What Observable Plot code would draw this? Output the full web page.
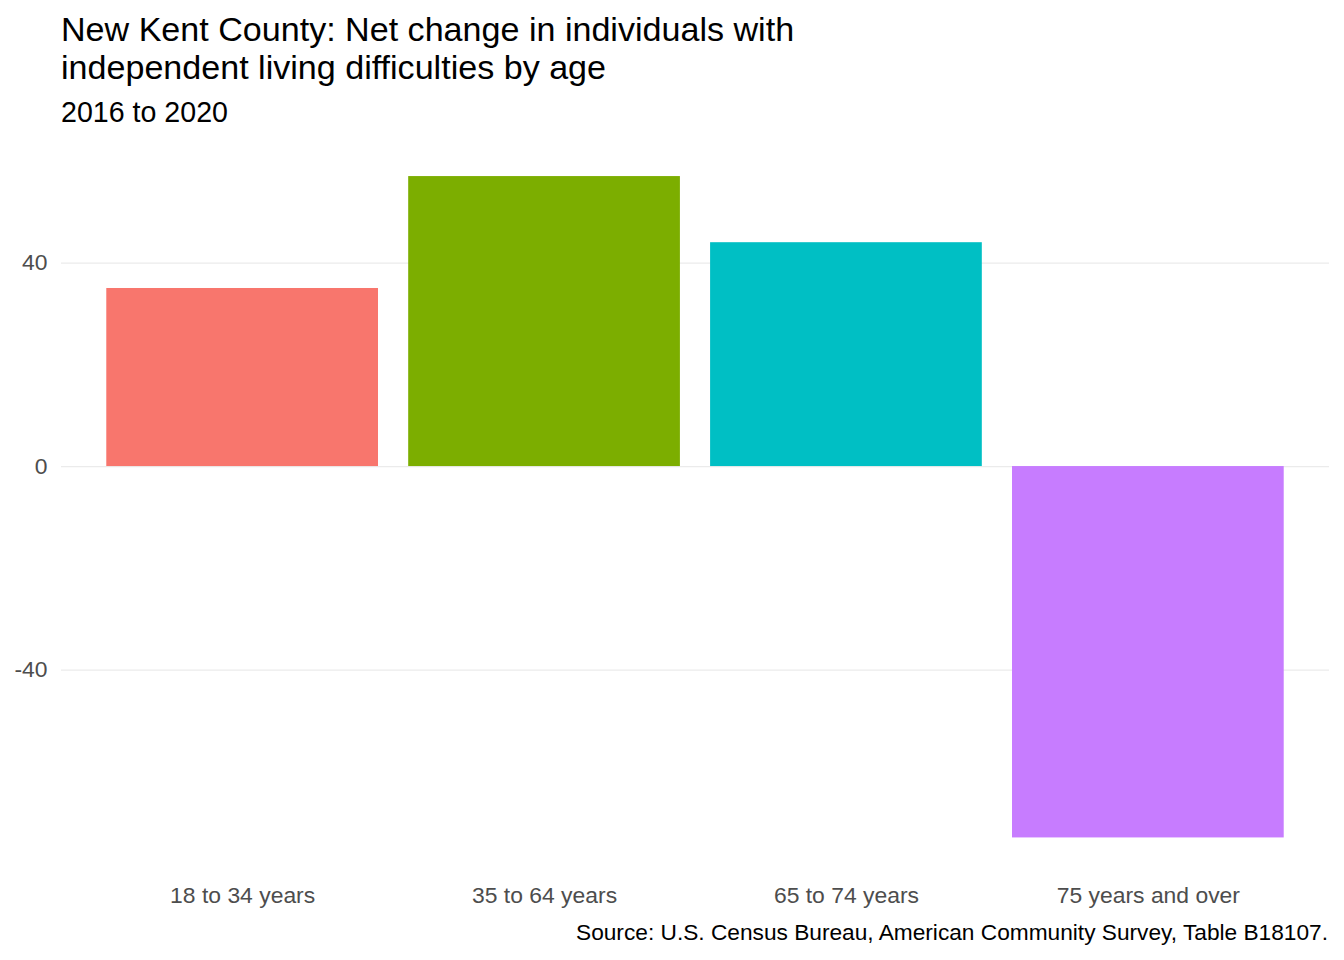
<!DOCTYPE html>
<html>
<head>
<meta charset="utf-8">
<script src="https://cdn.jsdelivr.net/npm/d3@7"></script>
<script src="https://cdn.jsdelivr.net/npm/@observablehq/plot@0.6"></script>
<style>
  html, body { margin: 0; padding: 0; background: #fff; overflow: hidden; }
  body { width: 1344px; height: 960px; font-family: 'Liberation Sans', Arial, sans-serif; }
  #title { font-size: 34.1px; line-height: 38px; padding: 10px 0 0 61px; color: #000; }
  #subtitle { font-size: 28.6px; line-height: 32px; margin-top: 10px; padding-left: 61px; color: #000; }
  #caption { font-size: 22.7px; line-height: 26px; margin-top: 8px; text-align: right; padding-right: 16px; color: #000; }
  svg { display: block; }
</style>
</head>
<body>
<div id="title">New Kent County: Net change in individuals with<br>independent living difficulties by age</div>
<div id="subtitle">2016 to 2020</div>
<div id="chart"></div>
<div id="caption">Source: U.S. Census Bureau, American Community Survey, Table B18107.</div>
<script>
const ages = ["18 to 34 years", "35 to 64 years", "65 to 74 years", "75 years and over"];
const change = [35, 57, 44, -73];
const colors = ["#F8766D", "#7CAE00", "#00BFC4", "#C77CFF"];
const yTicks = [-40, 0, 40];

const data = ages.map((a, i) => ({age: a, value: change[i]}));

const chart = Plot.plot({
  width: 1344,
  height: 783,
  marginTop: 15,
  marginBottom: 40.5,
  marginLeft: 61,
  marginRight: 15,
  style: {
    fontFamily: "'Liberation Sans', Arial, sans-serif",
    fontSize: "22.9px",
    color: "#4d4d4d",
    background: "white"
  },
  x: {domain: ages, paddingInner: 0.1, paddingOuter: 0.15, round: false, label: null, tickSize: 0, tickPadding: 15.5},
  y: {domain: [-79.5, 63.5], ticks: yTicks, tickFormat: d => String(d), label: null, tickSize: 0, tickPadding: 14},
  color: {domain: ages, range: colors},
  marks: [
    Plot.gridY(yTicks, {stroke: "#ebebeb", strokeOpacity: 1, strokeWidth: 1.2}),
    Plot.barY(data, {x: "age", y: "value", fill: "age"})
  ]
});
document.getElementById("chart").appendChild(chart);
</script>
</body>
</html>
